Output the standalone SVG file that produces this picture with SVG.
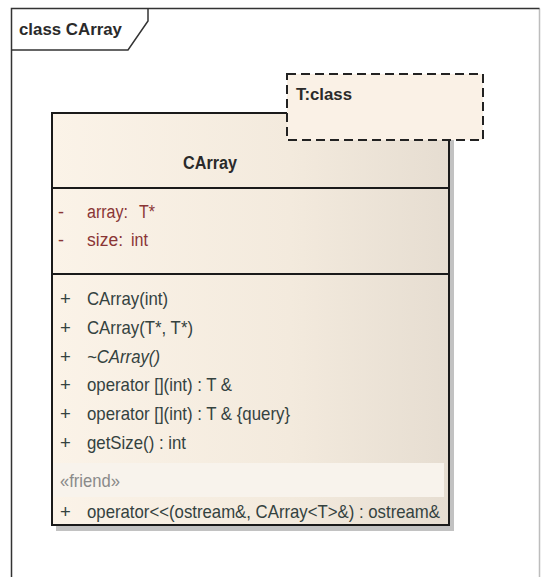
<svg xmlns="http://www.w3.org/2000/svg" width="541" height="577" viewBox="0 0 541 577">
  <defs>
    <linearGradient id="boxfill" x1="0" y1="0" x2="1" y2="0">
      <stop offset="0" stop-color="#fbf3e8"/>
      <stop offset="0.6" stop-color="#f3eadd"/>
      <stop offset="1" stop-color="#e6ddd1"/>
    </linearGradient>
    <style>
      .frame { fill: none; stroke: #333; stroke-width: 1.5; }
      .box { fill: url(#boxfill); stroke: #1a1a1a; stroke-width: 2; }
      .div { stroke: #1a1a1a; stroke-width: 2; }
      .shadow { fill: #c2c2c2; }
      .title { font-family: "Liberation Sans", Arial, sans-serif; font-weight: bold; fill: #2a2a2a; }
      .attr { font-family: "Liberation Sans", Arial, sans-serif; font-size: 18px; fill: #8a3535; }
      .op { font-family: "Liberation Sans", Arial, sans-serif; font-size: 18.5px; fill: #34423f; }
      .stereo { font-family: "Liberation Sans", Arial, sans-serif; font-size: 18.5px; fill: #8a8a8a; }
      .tpl { fill: #faf1e6; stroke: #222; stroke-width: 2; stroke-dasharray: 9 5; }
    </style>
  </defs>
  <rect x="0" y="0" width="541" height="577" fill="#ffffff"/>

  <g id="frame">
    <path d="M539.5,8.5 V600" fill="none" stroke="#bdbdbd" stroke-width="1.5"/>
    <path class="frame" d="M11.5,600 V8.5 H539.5"/>
    <path class="frame" d="M11.5,50 H128 L148,21 V8.5"/>
    <text class="title" x="19" y="35" font-size="17" textLength="103" lengthAdjust="spacingAndGlyphs">class CArray</text>
  </g>

  <g id="CArray">
    <rect class="shadow" x="449" y="118" width="5" height="413"/>
    <rect class="shadow" x="56" y="525" width="398" height="6"/>
    <rect class="box" x="52" y="113" width="397" height="412"/>
    <rect x="53" y="463" width="391" height="34" fill="#f8f3ec"/>
    <line class="div" x1="52" y1="188" x2="449" y2="188"/>
    <line class="div" x1="52" y1="274" x2="449" y2="274"/>
    <text class="title" x="183" y="169" font-size="18" textLength="54" lengthAdjust="spacingAndGlyphs">CArray</text>
    <text class="attr" x="58" y="218">-</text>
    <text class="attr" x="87" y="218" textLength="41" lengthAdjust="spacingAndGlyphs">array:</text>
    <text class="attr" x="139" y="218" textLength="16" lengthAdjust="spacingAndGlyphs">T*</text>
    <text class="attr" x="58" y="246">-</text>
    <text class="attr" x="87" y="246" textLength="36" lengthAdjust="spacingAndGlyphs">size:</text>
    <text class="attr" x="131" y="246" textLength="17" lengthAdjust="spacingAndGlyphs">int</text>
    <text class="op" x="60" y="305">+</text>
    <text class="op" x="87" y="305" textLength="81" lengthAdjust="spacingAndGlyphs">CArray(int)</text>
    <text class="op" x="60" y="334">+</text>
    <text class="op" x="87" y="334" textLength="106" lengthAdjust="spacingAndGlyphs">CArray(T*, T*)</text>
    <text class="op" x="60" y="363">+</text>
    <text class="op" x="87" y="363" font-style="italic" textLength="73" lengthAdjust="spacingAndGlyphs">~CArray()</text>
    <text class="op" x="60" y="391">+</text>
    <text class="op" x="87" y="391" textLength="145" lengthAdjust="spacingAndGlyphs">operator [](int) : T &amp;</text>
    <text class="op" x="60" y="420">+</text>
    <text class="op" x="87" y="420" textLength="203" lengthAdjust="spacingAndGlyphs">operator [](int) : T &amp; {query}</text>
    <text class="op" x="60" y="449">+</text>
    <text class="op" x="87" y="449" textLength="99" lengthAdjust="spacingAndGlyphs">getSize() : int</text>
    <text class="stereo" x="60" y="487" textLength="60" lengthAdjust="spacingAndGlyphs">«friend»</text>
    <text class="op" x="60" y="518">+</text>
    <text class="op" x="87" y="518" textLength="353" lengthAdjust="spacingAndGlyphs">operator&lt;&lt;(ostream&amp;, CArray&lt;T&gt;&amp;) : ostream&amp;</text>
  </g>

  <g id="template">
    <rect class="tpl" x="287" y="74" width="196" height="66"/>
    <text class="title" x="296" y="100" font-size="17" textLength="56" lengthAdjust="spacingAndGlyphs">T:class</text>
  </g>
</svg>
